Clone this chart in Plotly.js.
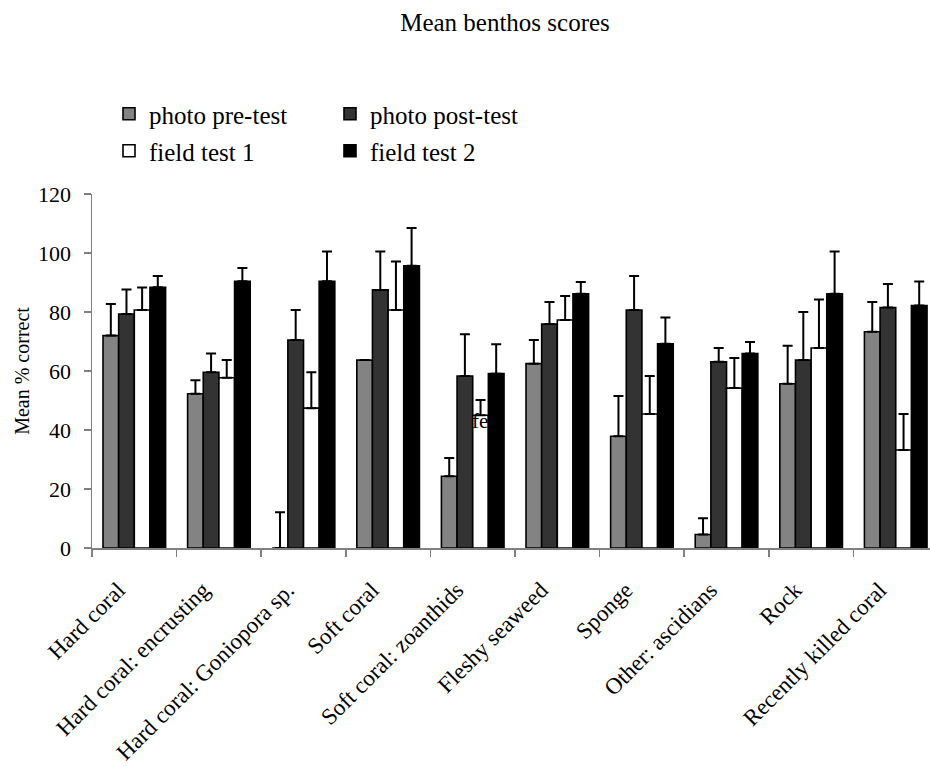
<!DOCTYPE html>
<html>
<head>
<meta charset="utf-8">
<script src="https://cdn.plot.ly/plotly-3.0.1.min.js"></script>
<style>html,body{margin:0;padding:0;background:#fff;}#chart{width:930px;height:767px;}</style>
</head>
<body>
<div id="chart"></div>
<script>
const categories = ["Hard coral", "Hard coral: encrusting", "Hard coral: Goniopora sp.", "Soft coral",
  "Soft coral: zoanthids", "Fleshy seaweed", "Sponge", "Other: ascidians", "Rock", "Recently killed coral"];

const photoPre      = [72.0, 52.3, 0.0, 63.7, 24.3, 62.5, 37.9, 4.6, 55.7, 73.3];
const photoPreErr   = [10.7, 4.6, 12.1, 0.0, 6.2, 8.0, 13.6, 5.5, 12.9, 10.1];
const photoPost     = [79.3, 59.6, 70.5, 87.5, 58.3, 75.9, 80.7, 63.1, 63.7, 81.5];
const photoPostErr  = [8.3, 6.3, 10.2, 13.0, 14.2, 7.5, 11.5, 4.7, 16.3, 8.0];
const field1        = [80.7, 57.7, 47.4, 80.7, 45.0, 77.3, 45.4, 54.2, 67.8, 33.2];
const field1Err     = [7.6, 6.0, 12.2, 16.4, 5.2, 8.1, 12.9, 10.2, 16.4, 12.2];
const field2        = [88.4, 90.4, 90.4, 95.7, 59.1, 86.2, 69.2, 65.9, 86.2, 82.2];
const field2Err     = [3.8, 4.5, 10.1, 12.8, 10.0, 4.0, 8.9, 3.9, 14.3, 8.1];

const yTicks = [0, 20, 40, 60, 80, 100, 120];

const FONT = "Liberation Serif, Times New Roman, serif";

function bar(name, y, err, color, legend) {
  return {
    type: "bar", name: name, x: categories, y: y, legend: legend,
    marker: {color: color, line: {color: "#000", width: 1.6}},
    error_y: {type: "data", symmetric: false, array: err, arrayminus: err.map(() => 0),
      color: "#000", thickness: 2, width: 5},
    hoverinfo: "skip"
  };
}

const data = [
  bar("photo pre-test", photoPre, photoPreErr, "#838383", "legend"),
  bar("photo post-test", photoPost, photoPostErr, "#333333", "legend"),
  bar("field test 1", field1, field1Err, "#ffffff", "legend2"),
  bar("field test 2", field2, field2Err, "#000000", "legend2")
];

const legendBase = {
  orientation: "h", xref: "container", yref: "container", xanchor: "left", yanchor: "top",
  entrywidth: 176, entrywidthmode: "pixels", font: {family: FONT, size: 25, color: "#000"},
  bgcolor: "rgba(0,0,0,0)", traceorder: "normal", itemclick: false, itemdoubleclick: false
};

const layout = {
  width: 930, height: 767,
  paper_bgcolor: "#fff", plot_bgcolor: "#fff",
  font: {family: FONT, color: "#000"},
  margin: {l: 92, r: 0, t: 194, b: 219},
  title: {text: "Mean benthos scores", font: {family: FONT, size: 25, color: "#000"},
    xref: "container", x: 505 / 930, xanchor: "center", yref: "container", y: 1 - 22 / 767, yanchor: "middle"},
  barmode: "group", bargap: 0.26, bargroupgap: 0,
  showlegend: true,
  legend: Object.assign({}, legendBase, {x: 109 / 930, y: 1 - 91 / 767}),
  legend2: Object.assign({}, legendBase, {x: 109 / 930, y: 1 - 128 / 767}),
  xaxis: {
    type: "category", range: [-0.5, 9.405], tickson: "boundaries",
    showline: true, linecolor: "#808080", linewidth: 1.5,
    ticks: "outside", ticklen: 7, tickcolor: "#808080", tickwidth: 1.5,
    showgrid: false, zeroline: false, tickangle: -45,
    ticklabelstandoff: 18, ticklabelshift: -16,
    tickfont: {family: FONT, size: 23, color: "#000"}, automargin: false
  },
  yaxis: {
    range: [0, 120], tickvals: yTicks, ticktext: yTicks.map(String),
    showline: true, linecolor: "#808080", linewidth: 1.5,
    ticks: "outside", ticklen: 7, tickcolor: "#808080", tickwidth: 1.5,
    showgrid: false, zeroline: false,
    tickfont: {family: FONT, size: 22, color: "#000"}, ticklabelstandoff: 8,
    title: {text: "Mean % correct", font: {family: FONT, size: 20, color: "#000"}, standoff: 3},
    automargin: false
  },
  annotations: [{
    x: 3.97, y: 43, xref: "x", yref: "y", text: "fe", showarrow: false,
    font: {family: FONT, size: 21, color: "#000"}, xanchor: "left", yanchor: "middle"
  }]
};

Plotly.newPlot("chart", data, layout, {displayModeBar: false, staticPlot: true});
</script>
</body>
</html>
